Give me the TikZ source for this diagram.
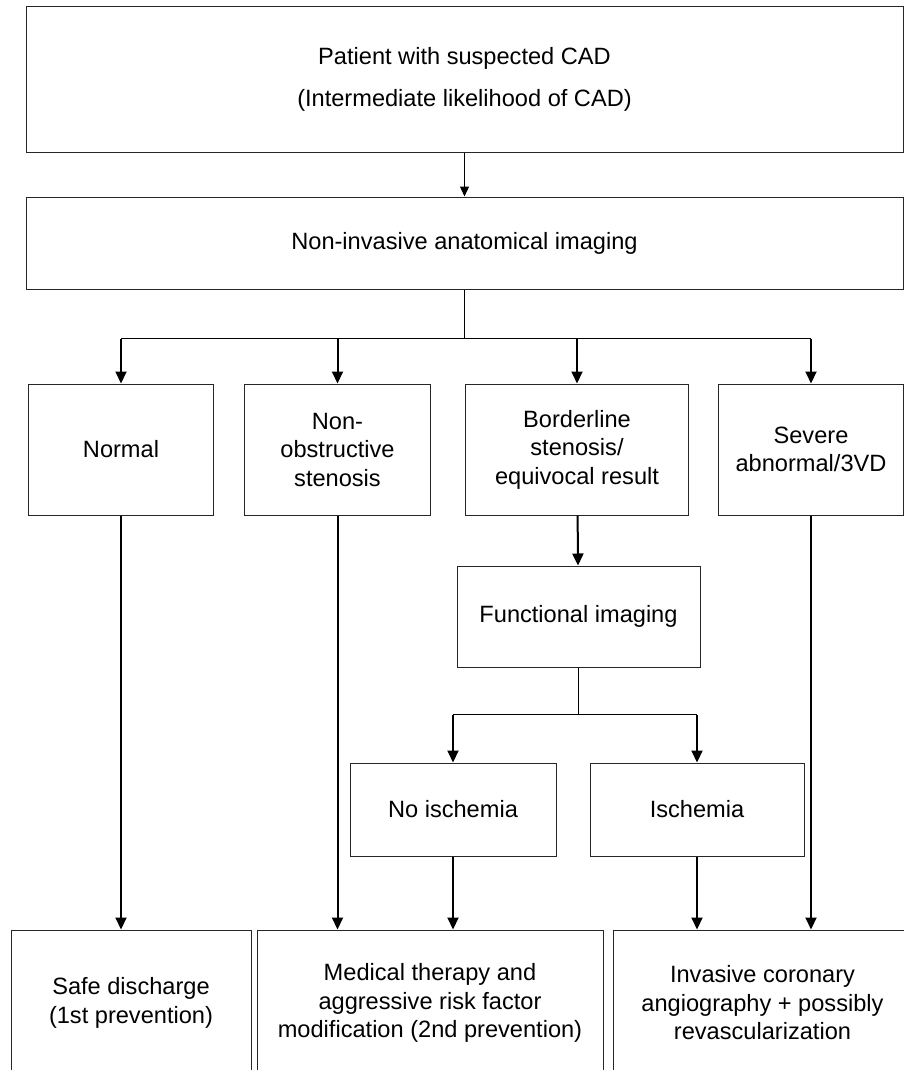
\documentclass[tikz,border=0pt]{standalone}
\usepackage{fontspec}
\setmainfont{Liberation Sans}
\usetikzlibrary{arrows.meta, positioning}

\begin{document}
\begin{tikzpicture}[x=1pt, y=-1pt,
  box/.style={draw=black!85, line width=1pt, align=center, inner sep=0pt, font=\fontsize{23.6}{28.5}\selectfont},
  arr/.style={line width=2pt, -{Triangle[length=12pt, width=11pt]}},
  thinarr/.style={line width=1.2pt, -{Triangle[length=10pt, width=9pt]}},
  bar/.style={line width=1.1pt}]
\useasboundingbox (0,0) rectangle (904,1070);

% top of the chart
\node[box, minimum width=877pt, minimum height=145pt] (patient) at (464.5,79.5) {Patient with suspected CAD\\[14pt](Intermediate likelihood of CAD)};
\node[box, minimum width=877pt, minimum height=92pt] (anat) at (464.5,243) {Non-invasive anatomical imaging};

% results of anatomical imaging
\node[box, minimum width=185pt, minimum height=131pt] (normal) at (121,449.5) {Normal};
\node[box, minimum width=186pt, minimum height=131pt] (nonobs) at (337.5,449.5) {Non-\\obstructive\\stenosis};
\node[box, minimum width=223pt, minimum height=131pt] (border) at (577,449.5) {Borderline\\stenosis/\\equivocal result};
\node[box, minimum width=185pt, minimum height=131pt] (severe) at (811,449.5) {Severe\\abnormal/3VD};

% functional branch
\node[box, minimum width=243pt, minimum height=101pt] (func) at (578.5,616.5) {Functional imaging};
\node[box, minimum width=206pt, minimum height=93pt] (noisch) at (453,809.5) {No ischemia};
\node[box, minimum width=214pt, minimum height=93pt] (isch) at (697,809.5) {Ischemia};

% outcomes (cut off at the bottom)
\node[box, minimum width=240pt, minimum height=146pt] (safe) at (131,1003) {Safe discharge\\(1st prevention)};
\node[box, minimum width=346pt, minimum height=146pt] (medical) at (430,1003) {Medical therapy and\\aggressive risk factor\\modification (2nd prevention)};
\node[box, minimum width=299pt, minimum height=146pt] (invasive) at (762.5,1003) {Invasive coronary\\angiography + possibly\\revascularization};

\draw[thinarr] (patient) -- (anat);

\draw[bar] (anat.south) -- ++(0,49) coordinate (split);
\draw[bar] (split -| normal.north) -- (split -| severe.north);
\foreach \n in {normal, nonobs, border, severe}
  \draw[arr] (split -| \n.north) -- (\n.north);

\draw[arr] (border) -- (func);
\draw[bar] (func.south) -- ++(0,47) coordinate (fsplit);
\draw[bar] (fsplit -| noisch.north) -- (fsplit -| isch.north);
\draw[arr] (fsplit -| noisch.north) -- (noisch.north);
\draw[arr] (fsplit -| isch.north) -- (isch.north);

\draw[arr] (normal.south) -- (normal.south |- safe.north);
\draw[arr] (nonobs.south) -- (nonobs.south |- medical.north);
\draw[arr] (noisch.south) -- (noisch.south |- medical.north);
\draw[arr] (isch.south) -- (isch.south |- invasive.north);
\draw[arr] (severe.south) -- (severe.south |- invasive.north);
\end{tikzpicture}
\end{document}
